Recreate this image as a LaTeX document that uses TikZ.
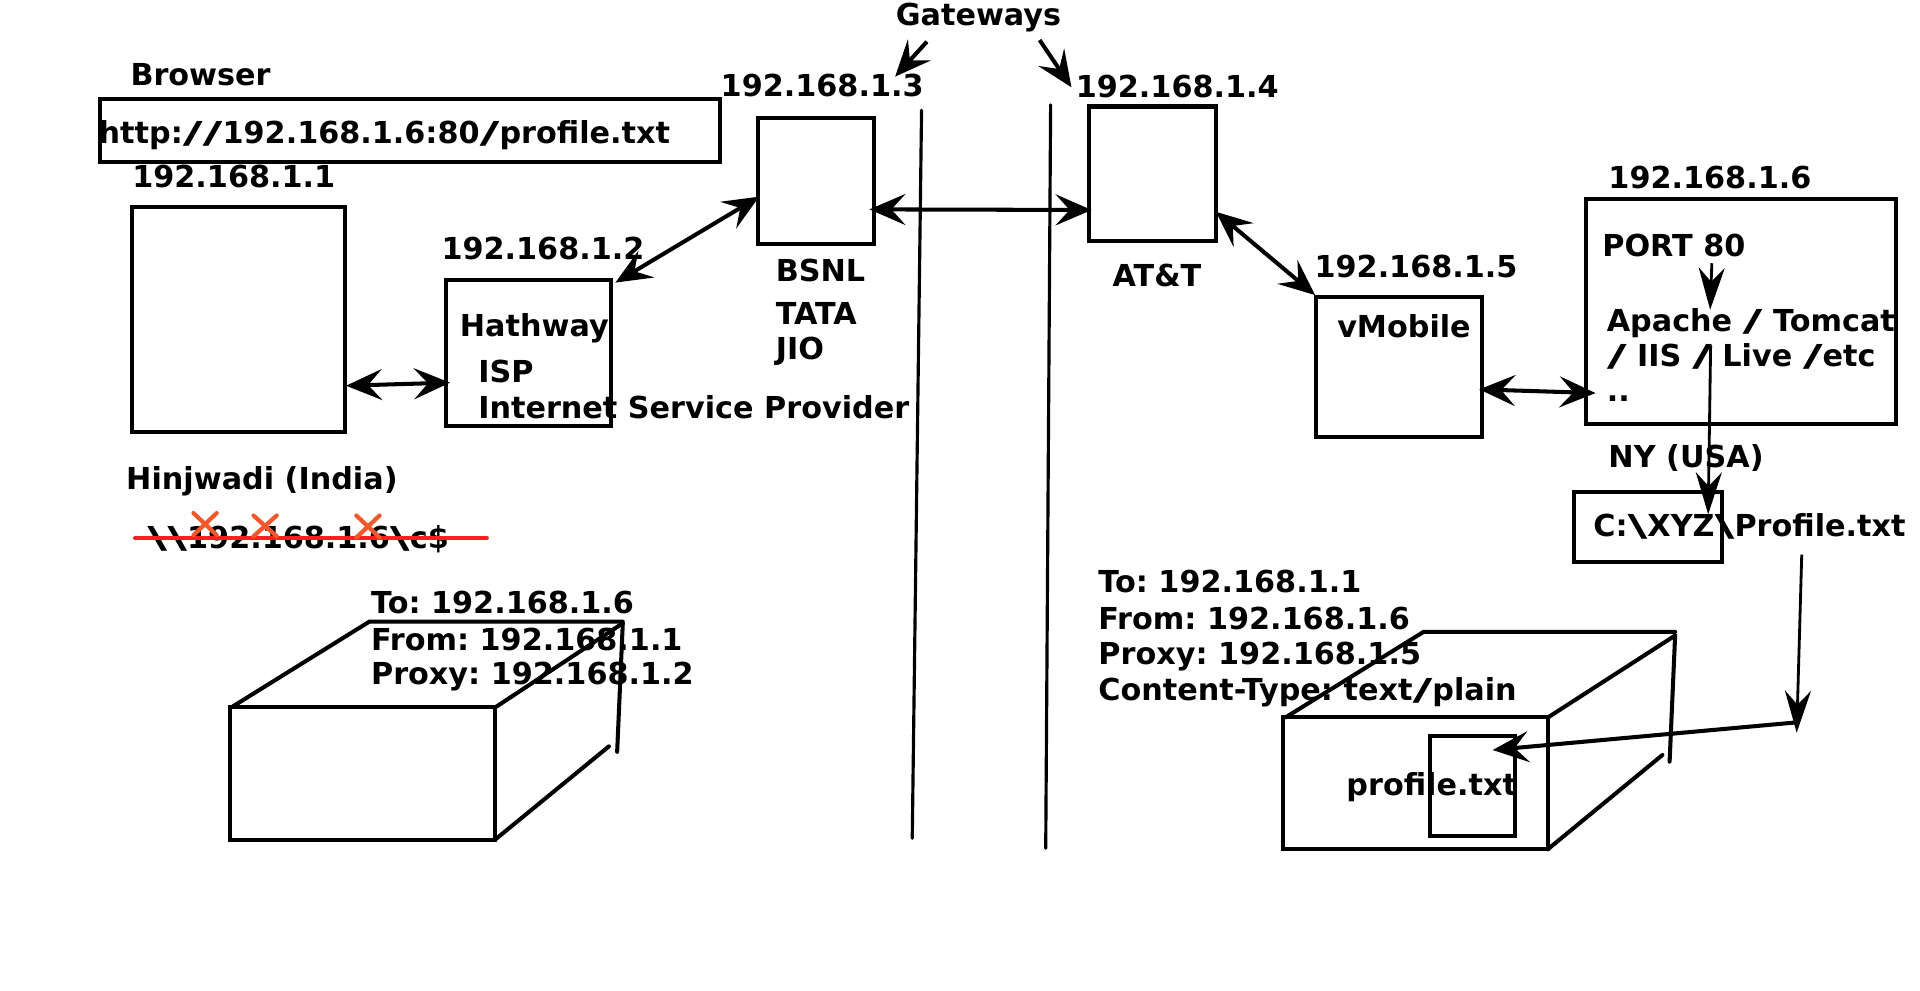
\documentclass[tikz,border=0pt]{standalone}
\usepackage{fontspec}
\setmainfont{DejaVu Sans}
\usepackage{graphicx}
\usepackage{xcolor}
\usetikzlibrary{arrows.meta,fit}
\definecolor{strikered}{RGB}{255,30,30}
\definecolor{crossorange}{RGB}{242,88,42}
\newcommand{\wbs}{\scalebox{1.8}[1]{\textbackslash}}
\newcommand{\wsl}{\scalebox{1.8}[1]{/}}
\frenchspacing

\begin{document}
\begin{tikzpicture}[x=0.012245cm,y=-0.012245cm,
    txt/.style={anchor=base west,inner sep=0pt,font=\fontsize{8.6}{10}\selectfont\bfseries},
    box/.style={draw,line width=1.15pt,inner sep=0pt},
    dbl/.style={line width=1.15pt,{Stealth[length=3.6mm,width=3.1mm,inset=1.4mm]}-{Stealth[length=3.6mm,width=3.1mm,inset=1.4mm]}},
    tip/.style={line width=1.15pt,-{Stealth[length=3.6mm,width=3.1mm,inset=1.4mm]}},
    thintip/.style={line width=0.8pt,-{Stealth[length=4.2mm,width=2.6mm,inset=1.4mm]}},
    wall/.style={line width=0.9pt,line cap=round},
    pkt/.style={line width=1.15pt,line cap=round}]
    \useasboundingbox (0,0) rectangle (1568,809);

    % Browser side (India)
    \node[txt] (browserlbl) at (106,70) {Browser};
    \node[box,fit={(81.5,81) (587.6,132)}] (urlbox) {};
    \node[txt] (url) at (80,117) {http:\wsl\wsl 192.168.1.6:80\wsl profile.txt};
    \node[txt] (ip1) at (107.5,153.5) {192.168.1.1};
    \node[box,fit={(107.5,168.8) (281.6,353)}] (pc) {};
    \node[txt] (hinj) at (102.5,400) {Hinjwadi (India)};

    % ISP
    \node[txt] (ip2) at (360,212) {192.168.1.2};
    \node[box,fit={(364,228.7) (499,348)}] (ispbox) {};
    \node[txt] (hath) at (375,275) {Hathway};
    \node[txt] (isp) at (390,312) {ISP};
    \node[txt] (ispfull) at (390,341.6) {Internet Service Provider};

    % Gateways
    \node[txt] (gw) at (731,21) {Gateways};
    \node[txt] (ip3) at (588,79) {192.168.1.3};
    \node[box,fit={(619,96) (714,199)}] (bsnlbox) {};
    \node[txt] (bsnl) at (633,230) {BSNL};
    \node[txt] (tata) at (633,265) {TATA};
    \node[txt] (jio) at (633,294) {JIO};
    \node[txt] (ip4) at (878,79.5) {192.168.1.4};
    \node[box,fit={(889,87) (993,196.6)}] (attbox) {};
    \node[txt] (att) at (908,233.6) {AT\&T};
    \draw[wall] (752.6,90) -- (745,684.6);
    \draw[wall] (858,85.7) -- (854,692.8);

    % Proxy and server (USA)
    \node[txt] (ip5) at (1073,227) {192.168.1.5};
    \node[box,fit={(1075,242.8) (1210,356.6)}] (vmobbox) {};
    \node[txt] (vmob) at (1091.5,276) {vMobile};
    \node[txt] (ip6) at (1313,153.6) {192.168.1.6};
    \node[box,fit={(1295,162.8) (1548,346.3)}] (srvbox) {};
    \node[txt] (port) at (1308,209.6) {PORT 80};
    \node[txt] (srv1) at (1311.6,271) {Apache \wsl{} Tomcat};
    \node[txt] (srv2) at (1311.6,299.5) {\wsl{} IIS \wsl{} Live \wsl etc};
    \node[txt] (srv3) at (1311.6,328) {..};
    \node[txt] (ny) at (1313,382) {NY (USA)};
    \node[box,fit={(1285.6,402) (1406,458.7)}] (cbox) {};
    \node[txt] (cpath) at (1300.6,438) {C:\wbs XYZ\wbs Profile.txt};

    % Connection ends
    \coordinate (pcR) at (282.6,315);
    \coordinate (ispL) at (367.5,312.5);
    \coordinate (ispT) at (502.6,230.8);
    \coordinate (bsnlL) at (620,160.6);
    \coordinate (bsnlR) at (710,171);
    \coordinate (attL) at (891.5,171.5);
    \coordinate (attR) at (993,173);
    \coordinate (vmobT) at (1074,241);
    \coordinate (vmobR) at (1208,318);
    \coordinate (srvL) at (1303,321);
    \coordinate (gwA) at (757,34);
    \coordinate (gwB) at (849,32.7);
    \coordinate (ip3tip) at (731,62.6);
    \coordinate (ip4tip) at (875,71.3);
    \coordinate (portB) at (1398,215);
    \coordinate (apacheT) at (1396.6,253);
    \coordinate (srvIn) at (1397,282);
    \coordinate (cboxT) at (1395,420);
    \coordinate (cpathB) at (1471.4,453);
    \coordinate (bend) at (1467.3,598.4);
    \coordinate (bendL) at (1466.6,590);
    \coordinate (fileR) at (1219,612.5);

    \draw[dbl] (pcR) -- (ispL);
    \draw[dbl] (ispT) -- (bsnlL);
    \draw[dbl] (bsnlR) -- (attL);
    \draw[dbl] (attR) -- (vmobT);
    \draw[dbl] (vmobR) -- (srvL);
    \draw[tip] (gwA) -- (ip3tip);
    \draw[tip] (gwB) -- (ip4tip);
    \draw[thintip] (portB) -- (apacheT);
    \draw[thintip] (srvIn) -- (cboxT);
    \draw[thintip] (cpathB) -- (bend);

    % Share path, struck out
    \node[txt] (unc) at (119.8,447.6) {\wbs\wbs 192.168.1.6\wbs c\$};
    \draw[strikered,line width=1.2pt,line cap=round] (110.3,439.6) -- (397.5,439.6);
    \draw[crossorange,line width=1.2pt,line cap=round] (158,419) -- (177,437) (177,419) -- (158,437);
    \draw[crossorange,line width=1.2pt,line cap=round] (207,421) -- (226,438) (226,421) -- (207,438);
    \draw[crossorange,line width=1.2pt,line cap=round] (291,421) -- (310,439) (310,421) -- (291,439);

    % Request packet
    \node[txt] (reqto) at (302.5,501) {To: 192.168.1.6};
    \node[txt] (reqfrom) at (302.5,531) {From: 192.168.1.1};
    \node[txt] (reqproxy) at (302.5,559) {Proxy: 192.168.1.2};
    \draw[pkt] (187.5,577) rectangle (404,686);
    \draw[pkt] (190,577) -- (301.6,507.7) -- (508.6,507.7);
    \draw[pkt] (404,578) -- (507,510);
    \draw[pkt] (508.6,509) -- (504,614);
    \draw[pkt] (404,686) -- (497.3,609.5);

    % Response packet
    \node[txt] (resto) at (896.5,484) {To: 192.168.1.1};
    \node[txt] (resfrom) at (896.5,513.7) {From: 192.168.1.6};
    \node[txt] (resproxy) at (896.5,543) {Proxy: 192.168.1.5};
    \node[txt] (restype) at (896.5,572) {Content-Type: text\wsl plain};
    \draw[pkt] (1048,585.8) rectangle (1264,693.6);
    \draw[pkt] (1050,585.8) -- (1162.6,516) -- (1368,516);
    \draw[pkt] (1264,586) -- (1368,519);
    \draw[pkt] (1368,519) -- (1363.5,622);
    \draw[pkt] (1264,693.6) -- (1357.6,616.6);
    \node[box,fit={(1168,601) (1237,683)}] (filebox) {};
    \node[txt] (file) at (1099,650) {profile.txt};
    \draw[tip] (bendL) -- (fileR);

\end{tikzpicture}
\end{document}
